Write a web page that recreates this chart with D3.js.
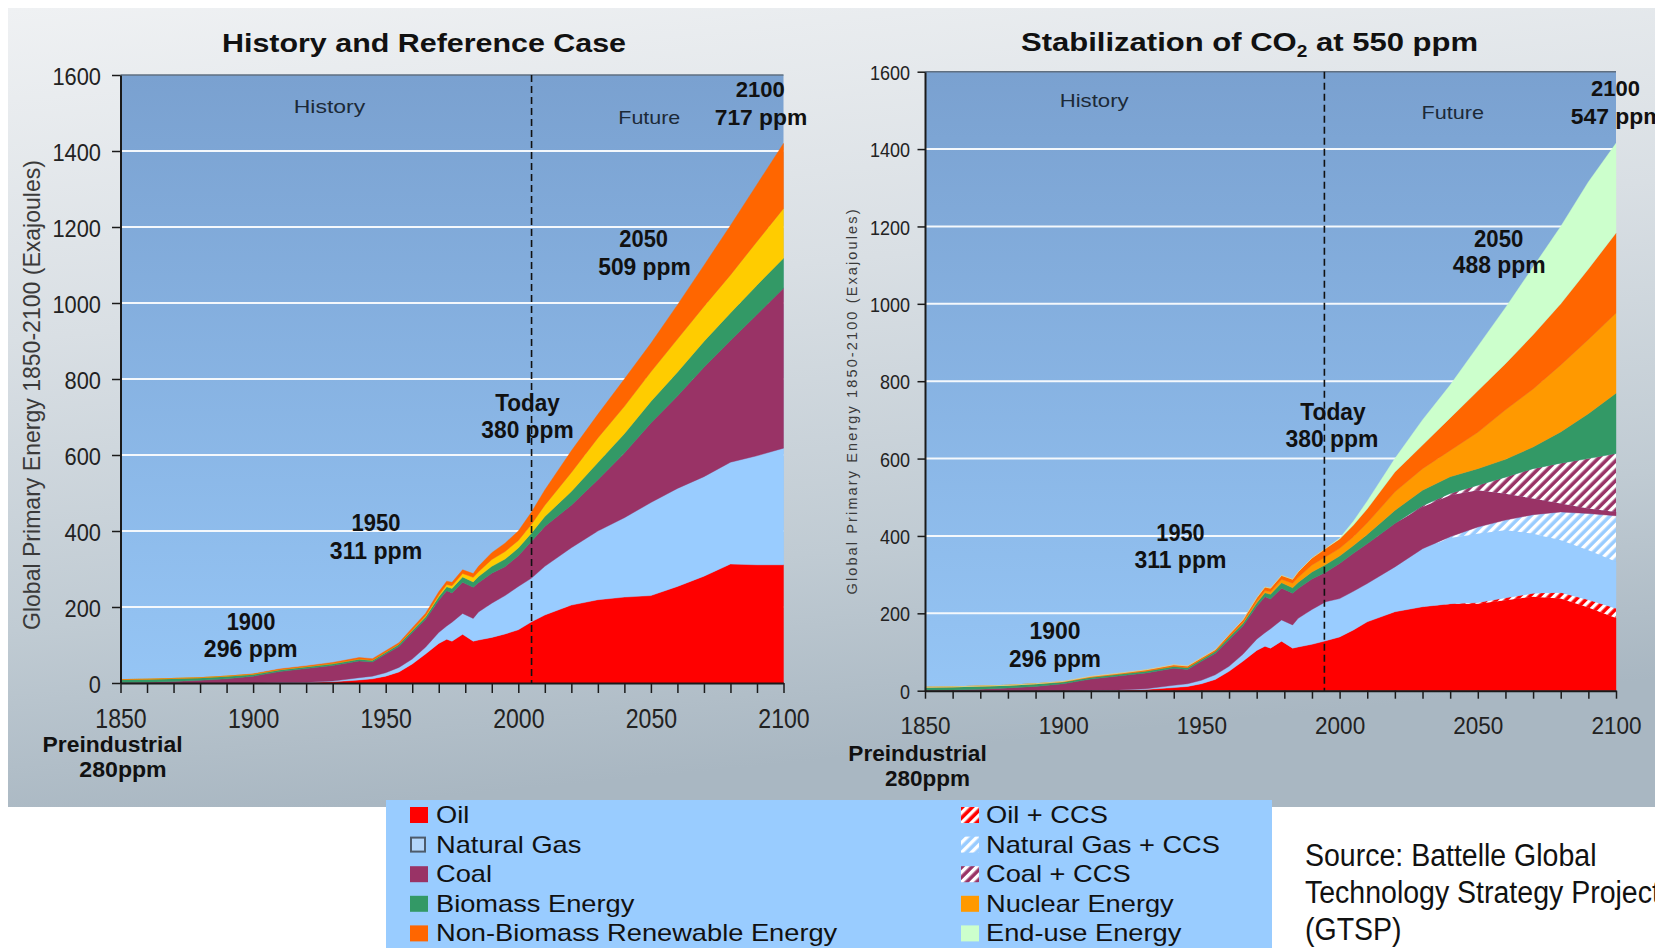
<!DOCTYPE html>
<html><head><meta charset="utf-8">
<script src="https://cdn.jsdelivr.net/npm/d3@7"></script>
<style>
html,body{margin:0;padding:0;background:#fff;}
svg{display:block;}
text{font-family:"Liberation Sans",Arial,Helvetica,sans-serif;}
</style>
</head><body>
<svg id="c" width="1655" height="948"></svg>
<script>
// ---------------- DATA ----------------
const YEARS = [1850,1860,1870,1880,1890,1900,1910,1920,1930,1940,1945,1950,1955,1960,1965,1970,1973,1975,1979,1983,1985,1990,1995,2000,2005,2010,2020,2030,2040,2050,2060,2070,2080,2090,2100];

// History and Reference Case (EJ per layer)
const REF_OIL     = [0,0,0,0,0,0,0,1,3,8,11,18,29,50,76,104,115,110,128,110,113,120,129,140,161,179,205,219,226,230,254,281,313,311,311];
const REF_GAS     = [0,0,0,0,0,0,1,1,2,6,7,9,12,13,18,29,35,50,55,60,74,90,101,114,115,128,151,181,209,245,258,262,268,287,307];
const REF_COAL    = [1,2,4,7,11,18,29,36,41,44,37,49,55,69,73,85,93,77,82,82,77,79,76,81,97,105,112,135,170,209,243,288,320,372,421];
const REF_BIOMASS = [8,8,8,7,7,5,5,5,5,5,5,5,6,6,7,9,10,12,14,14,16,18,20,20,22,26,36,45,51,57,63,68,73,77,79];
const REF_NUCLEAR = [0,0,0,0,0,0,0,0,0,0,0,0,0,1,2,4,6,7,9,12,13,18,20,20,23,30,50,65,72,78,87,92,100,115,131];
const REF_RENEW   = [0,0,0,0,0,1,2,2,3,4,4,4,4,6,7,9,9,9,10,10,14,18,22,25,32,40,57,62,72,75,90,108,130,150,171];

// Stabilization of CO2 at 550 ppm (EJ per layer)
const STAB_OIL      = [0,0,0,0,0,0,0,1,3,8,11,18,29,50,76,104,115,110,128,110,113,120,129,139,157,178,204,217,224,225,234,243,238,215,188];
const STAB_OIL_CCS  = [0,0,0,0,0,0,0,0,0,0,0,0,0,0,0,0,0,0,0,0,0,0,0,0,0,0,0,0,1,3,6,9,16,20,25];
const STAB_GAS      = [0,0,0,0,0,0,1,1,2,6,7,9,12,13,18,29,35,50,55,60,74,90,101,99,100,99,116,150,170,178,175,154,135,128,120];
const STAB_GAS_CCS  = [0,0,0,0,0,0,0,0,0,0,0,0,0,0,0,0,0,0,0,0,0,0,0,0,0,0,0,0,3,17,26,49,73,95,119];
const STAB_COAL     = [1,2,4,7,11,18,29,36,41,44,37,49,55,69,73,85,93,77,82,82,77,79,76,91,98,103,112,108,107,95,68,42,22,13,10];
const STAB_COAL_CCS = [0,0,0,0,0,0,0,0,0,0,0,0,0,0,0,0,0,0,0,0,0,0,0,0,0,0,0,3,5,13,43,77,104,129,151];
const STAB_BIOMASS  = [8,8,8,7,7,5,5,5,5,5,5,5,6,6,7,9,10,12,14,14,16,18,20,19,20,24,34,40,43,43,46,56,81,116,156];
const STAB_NUCLEAR  = [0,0,0,0,0,0,0,0,0,0,0,0,0,1,2,4,6,7,9,12,13,18,20,20,23,30,48,56,68,94,128,150,173,192,207];
const STAB_RENEW    = [0,0,0,0,0,1,2,2,3,4,4,4,4,6,7,9,9,9,10,10,14,18,22,24,30,36,51,61,84,107,119,140,158,182,207];
const STAB_ENDUSE   = [0,0,0,0,0,0,0,0,0,0,0,0,0,0,0,0,0,0,0,0,0,0,0,2,10,20,35,65,85,115,145,175,200,225,232];

const Y_TICKS = [0,200,400,600,800,1000,1200,1400,1600];
const X_MINOR_TICKS = [1850,1860,1870,1880,1890,1900,1910,1920,1930,1940,1950,1960,1970,1980,1990,2000,2010,2020,2030,2040,2050,2060,2070,2080,2090,2100];
const X_LABELS = [1850,1900,1950,2000,2050,2100];
const TODAY_YEAR = [2005, 1994.5];

const LEGEND_LEFT  = ["Oil","Natural Gas","Coal","Biomass Energy","Non-Biomass Renewable Energy"];
const LEGEND_RIGHT = ["Oil + CCS","Natural Gas + CCS","Coal + CCS","Nuclear Energy","End-use Energy"];
const SOURCE_LINES = ["Source: Battelle Global","Technology Strategy Project","(GTSP)"];

// ---------------- DRAW ----------------
const C = {oil:"#ff0000", gas:"#99ccff", coal:"#993366", bio:"#339966", nucY:"#ffcc00",
           nuc:"#ff9900", ren:"#ff6600", end:"#ccffcc"};
const FONT = '"Liberation Sans",Arial,Helvetica,sans-serif';
const svg = d3.select("#c");
const defs = svg.append("defs");

const bgG = defs.append("linearGradient").attr("id","bgGrad").attr("x1",0).attr("y1",0).attr("x2",0.2).attr("y2",1);
[[0,"#eff1f3"],[0.4,"#d9dfe4"],[0.75,"#c0cbd3"],[1,"#a9b7c2"]].forEach(([o,c])=>bgG.append("stop").attr("offset",o).attr("stop-color",c));
const plG = defs.append("linearGradient").attr("id","plotGrad").attr("x1",0).attr("y1",0).attr("x2",0).attr("y2",1);
[[0,"#7aa1d0"],[1,"#95c5f5"]].forEach(([o,c])=>plG.append("stop").attr("offset",o).attr("stop-color",c));

function hatch(id, base, stripe){
  const p = defs.append("pattern").attr("id",id).attr("patternUnits","userSpaceOnUse")
    .attr("width",7).attr("height",7).attr("patternTransform","rotate(45)");
  p.append("rect").attr("width",7).attr("height",7).attr("fill",base);
  p.append("rect").attr("width",3.4).attr("height",7).attr("fill",stripe);
}
hatch("hOil", C.oil, "#ffffff");
hatch("hGas", C.gas, "#ffffff");
hatch("hCoal", C.coal, "#ffffff");

// outer background panel
svg.append("rect").attr("x",8).attr("y",8).attr("width",1647).attr("height",799).attr("fill","url(#bgGrad)");

function label(parent, s, x, y, o={}){
  const t = parent.append("text").attr("x",x).attr("y",y)
    .attr("font-size",o.size||22).attr("font-weight",o.bold?"bold":"normal")
    .attr("text-anchor",o.anchor||"middle").attr("fill",o.fill||"#111").text(s);
  if (o.w) t.attr("textLength",o.w).attr("lengthAdjust",o.adj||"spacingAndGlyphs");
  if (o.rotate) t.attr("transform",`rotate(${o.rotate},${x},${y})`);
  return t;
}

function panel(cfg){
  const x = d3.scaleLinear().domain([1850,2100]).range([cfg.x0,cfg.x1]);
  const y = d3.scaleLinear().domain([0,1600]).range([cfg.yb,cfg.yt]);
  const g = svg.append("g");
  g.append("rect").attr("x",cfg.x0).attr("y",cfg.yt).attr("width",cfg.x1-cfg.x0).attr("height",cfg.yb-cfg.yt).attr("fill","url(#plotGrad)");
  g.selectAll("line.grid").data(Y_TICKS.filter(v=>v>0 && v<1600)).join("line")
    .attr("x1",cfg.x0).attr("x2",cfg.x1).attr("y1",d=>y(d)).attr("y2",d=>y(d))
    .attr("stroke","#f4f8fc").attr("stroke-width",2);

  const rows = YEARS.map((yr,i)=>{const r={year:yr}; cfg.series.forEach(s=>r[s.key]=s.values[i]); return r;});
  const stacked = d3.stack().keys(cfg.series.map(s=>s.key))(rows);
  const area = d3.area().x(d=>x(d.data.year)).y0(d=>y(d[0])).y1(d=>y(d[1]));
  g.selectAll("path.layer").data(stacked).join("path").attr("class","layer")
    .attr("d",area).attr("fill",(d,i)=>cfg.series[i].fill)
    .attr("stroke",(d,i)=>cfg.series[i].fill.startsWith("url")?"none":cfg.series[i].fill).attr("stroke-width",0.4);

  // top border
  g.append("line").attr("x1",cfg.x0).attr("x2",cfg.x1).attr("y1",cfg.yt).attr("y2",cfg.yt).attr("stroke","#5f6f80").attr("stroke-width",1.5);

  // y axis
  const ya = d3.axisLeft(y).tickValues(Y_TICKS).tickSize(cfg.yTick).tickSizeOuter(0).tickFormat(d3.format("d"));
  const yg = g.append("g").attr("transform",`translate(${cfg.x0},0)`).call(ya)
    .attr("font-family",FONT).attr("font-size",cfg.yFont);
  yg.select(".domain").attr("stroke","#1a1a1a").attr("stroke-width",2);
  yg.selectAll(".tick line").attr("stroke","#1a1a1a").attr("stroke-width",1.5);
  yg.selectAll(".tick text").attr("fill","#222").attr("x",-cfg.yGap/cfg.ySx).attr("dy",cfg.yDy)
    .attr("transform",`scale(${cfg.ySx},1)`);

  // x axis
  const xa = d3.axisBottom(x).tickValues(X_MINOR_TICKS).tickSize(cfg.xTick).tickSizeOuter(0)
    .tickFormat(d=>X_LABELS.includes(d)?String(d):"");
  const xg = g.append("g").attr("transform",`translate(0,${cfg.yb})`).call(xa)
    .attr("font-family",FONT).attr("font-size",cfg.xFont);
  xg.select(".domain").attr("stroke","#1a1a1a").attr("stroke-width",2);
  xg.selectAll(".tick line").attr("stroke","#1a1a1a").attr("stroke-width",1.5);
  xg.selectAll(".tick text").attr("fill","#222").attr("y",cfg.xLab).attr("dy",0)
    .attr("transform",`scale(${cfg.xSx},1)`);

  // today line
  g.append("line").attr("x1",x(cfg.today)).attr("x2",x(cfg.today)).attr("y1",cfg.yt).attr("y2",cfg.yb)
    .attr("stroke","#111").attr("stroke-width",1.6).attr("stroke-dasharray","7,4");
  return g;
}

// ---- Left panel ----
panel({
  x0:120.5, x1:783.5, yt:75, yb:683, today:TODAY_YEAR[0],
  yTick:8.5, yFont:23.5, ySx:0.93, yGap:19.5, yDy:"0.4em",
  xTick:10, xFont:27.5, xSx:0.84, xLab:45.3,
  series:[
    {key:"oil", values:REF_OIL, fill:C.oil},
    {key:"gas", values:REF_GAS, fill:C.gas},
    {key:"coal", values:REF_COAL, fill:C.coal},
    {key:"bio", values:REF_BIOMASS, fill:C.bio},
    {key:"nuc", values:REF_NUCLEAR, fill:C.nucY},
    {key:"ren", values:REF_RENEW, fill:C.ren}
  ]
});
label(svg,"History and Reference Case",424,52,{size:26,bold:true,w:404});
label(svg,"Global Primary Energy 1850-2100 (Exajoules)",40,395,{size:24,w:470,rotate:-90,fill:"#3a3a3a"});
label(svg,"History",329.5,113.3,{size:19,w:71.5,fill:"#1c2a38"});
label(svg,"Future",649.3,123.7,{size:19,w:62,fill:"#1c2a38"});
label(svg,"2100",760.2,96.7,{size:22,bold:true,w:49});
label(svg,"717 ppm",761,125,{size:22,bold:true,w:92.6});
label(svg,"2050",643.7,246.7,{size:23,bold:true,w:48.7});
label(svg,"509 ppm",644.5,275,{size:23,bold:true,w:92.6});
label(svg,"Today",527.5,411,{size:23,bold:true,w:64.7});
label(svg,"380 ppm",527.5,438.3,{size:23,bold:true,w:92.3});
label(svg,"1950",376,530.7,{size:23,bold:true,w:48.9});
label(svg,"311 ppm",376,559,{size:23,bold:true,w:92.3});
label(svg,"1900",251,630,{size:23,bold:true,w:48.7});
label(svg,"296 ppm",250.7,656.7,{size:23,bold:true,w:93.7});
label(svg,"Preindustrial",112.5,751.5,{size:22.5,bold:true,w:140});
label(svg,"280ppm",123,776.5,{size:22.5,bold:true,w:87.4});

// ---- Right panel ----
panel({
  x0:925, x1:1616, yt:71.7, yb:690.7, today:TODAY_YEAR[1],
  yTick:7.5, yFont:20, ySx:0.9, yGap:15, yDy:"0.38em",
  xTick:8, xFont:23, xSx:0.98, xLab:43.3,
  series:[
    {key:"oil", values:STAB_OIL, fill:C.oil},
    {key:"oilccs", values:STAB_OIL_CCS, fill:"url(#hOil)"},
    {key:"gas", values:STAB_GAS, fill:C.gas},
    {key:"gasccs", values:STAB_GAS_CCS, fill:"url(#hGas)"},
    {key:"coal", values:STAB_COAL, fill:C.coal},
    {key:"coalccs", values:STAB_COAL_CCS, fill:"url(#hCoal)"},
    {key:"bio", values:STAB_BIOMASS, fill:C.bio},
    {key:"nuc", values:STAB_NUCLEAR, fill:C.nuc},
    {key:"ren", values:STAB_RENEW, fill:C.ren},
    {key:"end", values:STAB_ENDUSE, fill:C.end}
  ]
});
{
  const t = svg.append("text").attr("x",1021).attr("y",51).attr("font-size",26).attr("font-weight","bold")
    .attr("fill","#111").attr("textLength",457).attr("lengthAdjust","spacingAndGlyphs");
  t.append("tspan").text("Stabilization of CO");
  t.append("tspan").attr("font-size",16).attr("dy",6).text("2");
  t.append("tspan").attr("dy",-6).text(" at 550 ppm");
}
label(svg,"Global Primary Energy 1850-2100 (Exajoules)",857,402,{size:14.5,w:385,adj:"spacing",rotate:-90,fill:"#3a3a3a"});
label(svg,"History",1094.2,107,{size:19,w:69,fill:"#1c2a38"});
label(svg,"Future",1452.8,118.5,{size:19,w:62.5,fill:"#1c2a38"});
label(svg,"2100",1615.5,96,{size:22,bold:true,w:49});
label(svg,"547 ppm",1570.7,124,{size:22,bold:true,w:93,anchor:"start"});
label(svg,"2050",1498.7,246.7,{size:23,bold:true,w:49.3});
label(svg,"488 ppm",1499.2,273.3,{size:23,bold:true,w:93});
label(svg,"Today",1333,420,{size:23,bold:true,w:65.4});
label(svg,"380 ppm",1332,446.7,{size:23,bold:true,w:93});
label(svg,"1950",1180.5,540.7,{size:23,bold:true,w:48.3});
label(svg,"311 ppm",1180.4,567.7,{size:23,bold:true,w:92});
label(svg,"1900",1055,639.3,{size:23,bold:true,w:51});
label(svg,"296 ppm",1055,666.7,{size:23,bold:true,w:92});
label(svg,"Preindustrial",917.5,761,{size:22.5,bold:true,w:138.4});
label(svg,"280ppm",927.5,785.5,{size:22.5,bold:true,w:85});

// ---- Legend ----
const lg = svg.append("g");
lg.append("rect").attr("x",386).attr("y",800).attr("width",886).attr("height",148).attr("fill","#99ccff");
const leftFills = [C.oil, null, C.coal, C.bio, C.ren];
const rightFills = ["url(#hOil)","url(#hGas)","url(#hCoal)",C.nuc,C.end];
function legendCol(names, fills, sx, tx){
  names.forEach((n,i)=>{
    const cy = 815 + i*29.6;
    if (fills[i]===null){
      lg.append("rect").attr("x",sx+1).attr("y",cy-7).attr("width",14).attr("height",14)
        .attr("fill","#b3d6fa").attr("stroke","#4d5b6b").attr("stroke-width",2);
    } else {
      lg.append("rect").attr("x",sx).attr("y",cy-8).attr("width",18).attr("height",16).attr("fill",fills[i]);
    }
    lg.append("g").attr("transform",`translate(${tx},${cy+8}) scale(1.185,1)`)
      .append("text").attr("x",0).attr("y",0).attr("font-size",23).attr("fill","#111").text(n);
  });
}
legendCol(LEGEND_LEFT, leftFills, 410, 436);
legendCol(LEGEND_RIGHT, rightFills, 961, 986);

// ---- Source ----
SOURCE_LINES.forEach((s,i)=>{
  svg.append("g").attr("transform",`translate(1305,${865.5+i*37}) scale(0.92,1)`)
    .append("text").attr("x",0).attr("y",0).attr("font-size",31).attr("fill","#111").text(s);
});
</script>
</body></html>
